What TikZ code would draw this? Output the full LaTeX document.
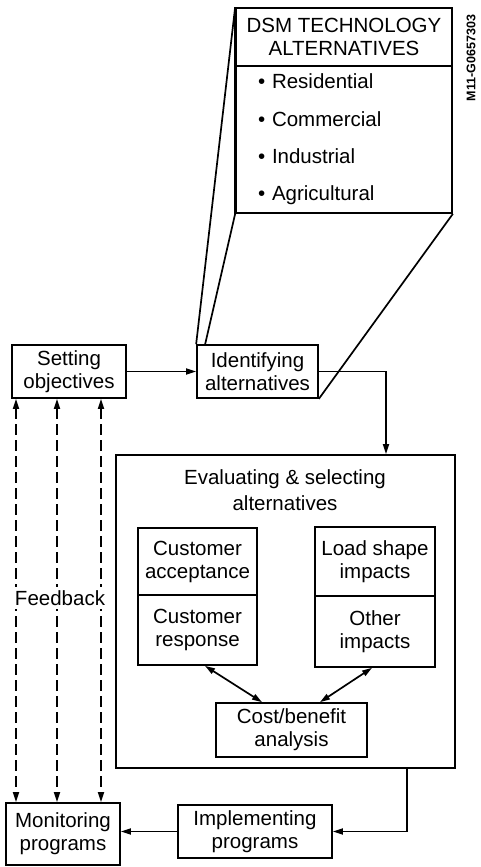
\documentclass[tikz,border=0pt]{standalone}
\usepackage{fontspec}
\setmainfont{Liberation Sans}
\usetikzlibrary{arrows.meta,calc}
\begin{document}
\begin{tikzpicture}[x=1pt,y=1pt,
  every node/.style={font=\fontsize{20.5}{23}\selectfont, align=center, inner sep=0pt},
  box/.style={draw, line width=1.7pt, rectangle},
  conn/.style={line width=1.7pt},
  arr/.style={conn, -{Triangle[length=10pt,width=6pt]}},
  darr/.style={conn, {Triangle[length=10pt,width=6pt]}-{Triangle[length=10pt,width=6pt]}},
  fb/.style={darr, dash pattern=on 11pt off 5pt}
]
\useasboundingbox (0,0) rectangle (480,-867);
% DSM technology box
\node[box, minimum width=216pt, minimum height=58pt] (dsmhead) at (344,-37) {DSM TECHNOLOGY\\ALTERNATIVES};
\node[box, minimum height=147pt, text width=172pt, inner xsep=22pt, align=left,
      font=\fontsize{20.5}{37.3}\selectfont] (dsmlist) at (344,-139.5)
  {• Residential\\• Commercial\\• Industrial\\• Agricultural};
\draw[line width=2.8pt] (dsmhead.north west) -- (dsmlist.south west);
\node[rotate=90, font=\fontsize{12.5}{14}\selectfont\bfseries] (code) at (471,-58) {M11-G0657303};

% main boxes
\node[box, minimum width=114pt, minimum height=53pt] (setobj) at (69,-371.5) {Setting\\objectives};
\node[box, minimum width=121pt, minimum height=53pt] (ident) at (257.5,-371.5) {Identifying\\alternatives};
\node[box, minimum width=339pt, minimum height=313pt] (eval) at (285.5,-611.5) {};
\node[font=\fontsize{20.5}{25.5}\selectfont] (evtitle) at (285,-490) {Evaluating \& selecting\\alternatives};
\node[box, minimum width=119pt, minimum height=67pt] (custacc) at (197.5,-561.5) {Customer\\acceptance};
\node[box, minimum width=119pt, minimum height=70pt] (custresp) at (197.5,-630) {Customer\\response};
\node[box, minimum width=120pt, minimum height=69pt] (load) at (375,-561.5) {Load shape\\impacts};
\node[box, minimum width=120pt, minimum height=71pt] (other) at (375,-631.5) {Other\\impacts};
\node[box, minimum width=151pt, minimum height=54pt] (cost) at (291.5,-730) {Cost/benefit\\analysis};
\node[box, minimum width=154pt, minimum height=53pt] (impl) at (255,-831.5) {Implementing\\programs};
\node[box, minimum width=114pt, minimum height=62pt] (monit) at (63,-834) {Monitoring\\programs};

% zoom lines from DSM box
\draw[conn] (dsmhead.north west) -- (ident.north west);
\draw[conn] (dsmlist.south west) -- ([xshift=9pt]ident.north west);
\draw[conn] (dsmlist.south east) -- (ident.south east);

% flow connectors
\draw[arr] (setobj.east) -- (ident.west);
\draw[arr] (ident.east) -| ([xshift=100.5pt]eval.north);
\draw[arr] ([xshift=121.5pt]eval.south) |- (impl.east);
\draw[arr] (impl.west) -- (impl.west -| monit.east);
\draw[darr] ([xshift=7.5pt]custresp.south) -- ([xshift=-29.5pt]cost.north);
\draw[darr] ([xshift=-3pt]other.south) -- ([xshift=28.5pt]cost.north);

% feedback
\draw[fb] ([xshift=-53pt]setobj.south) -- ([xshift=-53pt]setobj.south |- monit.north);
\draw[fb] ([xshift=-12pt]setobj.south) -- ([xshift=-12pt]setobj.south |- monit.north);
\draw[fb] ([xshift=32pt]setobj.south) -- ([xshift=32pt]setobj.south |- monit.north);
\node[fill=white, inner xsep=1pt, inner ysep=3pt] (feedback) at (60,-598) {Feedback};
\end{tikzpicture}
\end{document}
